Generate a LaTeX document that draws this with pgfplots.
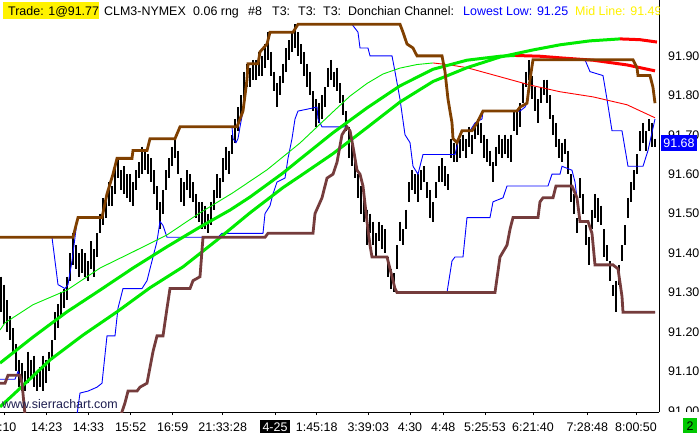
\documentclass[border=0pt]{standalone}
\usepackage{pgfplots}
\usepackage{pgfplotstable}
\pgfplotsset{compat=1.18}
\usepackage{fontspec}
\setmainfont{Liberation Sans}
\definecolor{brownup}{RGB}{128,64,0}
\definecolor{maroonlow}{RGB}{117,60,60}
\definecolor{malime}{RGB}{0,235,0}
\definecolor{mared}{RGB}{255,0,0}
\definecolor{mablue}{RGB}{0,0,255}
\definecolor{sgreen}{RGB}{0,200,0}
\definecolor{wmark}{RGB}{30,30,80}

\pgfplotstableread{
x h l
1 91.34 91.25
4 91.32 91.22
7 91.28 91.20
10 91.24 91.18
13 91.21 91.15
16 91.17 91.10
19 91.13 91.06
22 91.12 91.05
25 91.10 91.05
28 91.15 91.07
31 91.13 91.08
34 91.14 91.06
37 91.10 91.05
40 91.11 91.06
43 91.14 91.05
46 91.13 91.07
49 91.15 91.10
52 91.18 91.13
55 91.25 91.18
58 91.27 91.21
61 91.30 91.24
64 91.31 91.26
67 91.34 91.28
70 91.40 91.33
73 91.45 91.37
76 91.42 91.36
79 91.40 91.34
82 91.41 91.35
85 91.40 91.34
88 91.38 91.33
91 91.43 91.36
94 91.41 91.34
97 91.45 91.39
100 91.50 91.45
103 91.54 91.47
106 91.53 91.49
109 91.58 91.52
112 91.57 91.52
115 91.62 91.55
118 91.64 91.59
121 91.61 91.56
124 91.62 91.55
127 91.60 91.54
130 91.60 91.53
133 91.58 91.52
136 91.61 91.56
139 91.63 91.59
142 91.67 91.60
145 91.66 91.61
148 91.65 91.60
151 91.64 91.58
154 91.61 91.55
157 91.57 91.51
160 91.53 91.46
163 91.56 91.50
166 91.61 91.56
169 91.64 91.59
172 91.67 91.62
175 91.69 91.64
178 91.66 91.60
181 91.59 91.53
184 91.58 91.52
187 91.61 91.56
190 91.60 91.54
193 91.58 91.53
196 91.55 91.49
199 91.53 91.48
202 91.53 91.46
205 91.52 91.46
208 91.50 91.45
211 91.53 91.47
214 91.56 91.51
217 91.60 91.54
220 91.59 91.54
223 91.64 91.58
226 91.67 91.61
229 91.66 91.60
232 91.70 91.65
235 91.74 91.68
238 91.77 91.71
241 91.80 91.75
244 91.86 91.78
247 91.88 91.82
250 91.87 91.82
253 91.89 91.84
256 91.89 91.84
259 91.91 91.85
262 91.90 91.85
265 91.93 91.87
268 91.96 91.89
271 91.91 91.85
274 91.86 91.81
277 91.83 91.77
280 91.85 91.80
283 91.88 91.83
286 91.92 91.86
289 91.94 91.89
292 91.96 91.91
295 91.98 91.92
298 91.96 91.90
301 91.93 91.88
304 91.91 91.85
307 91.88 91.82
310 91.86 91.80
313 91.81 91.76
316 91.79 91.72
319 91.78 91.73
322 91.80 91.74
325 91.82 91.77
328 91.87 91.82
331 91.89 91.84
334 91.86 91.82
337 91.87 91.81
340 91.83 91.78
343 91.80 91.75
346 91.76 91.71
349 91.72 91.64
352 91.69 91.62
355 91.64 91.59
358 91.60 91.54
361 91.57 91.50
364 91.55 91.48
367 91.51 91.42
370 91.50 91.45
373 91.48 91.42
376 91.45 91.39
379 91.48 91.43
382 91.47 91.41
385 91.46 91.40
388 91.39 91.34
391 91.36 91.31
394 91.35 91.30
397 91.42 91.36
400 91.48 91.43
403 91.46 91.42
406 91.51 91.46
409 91.58 91.53
412 91.61 91.56
415 91.60 91.55
418 91.60 91.53
421 91.61 91.56
424 91.62 91.58
427 91.58 91.54
430 91.56 91.49
433 91.53 91.48
436 91.58 91.54
439 91.62 91.58
442 91.64 91.58
445 91.62 91.57
448 91.60 91.56
451 91.69 91.64
454 91.68 91.63
457 91.68 91.63
460 91.69 91.64
463 91.70 91.66
466 91.69 91.64
469 91.72 91.67
472 91.70 91.65
475 91.72 91.69
478 91.74 91.70
481 91.73 91.68
484 91.70 91.64
487 91.69 91.63
490 91.66 91.62
493 91.63 91.58
496 91.67 91.62
499 91.70 91.65
502 91.69 91.64
505 91.70 91.65
508 91.69 91.64
511 91.70 91.63
514 91.76 91.71
517 91.76 91.70
520 91.78 91.72
523 91.83 91.78
526 91.86 91.82
529 91.89 91.84
532 91.85 91.79
535 91.82 91.76
538 91.79 91.73
541 91.82 91.78
544 91.84 91.80
547 91.84 91.78
550 91.80 91.74
553 91.75 91.70
556 91.73 91.67
559 91.69 91.64
562 91.68 91.63
565 91.69 91.65
568 91.66 91.60
571 91.60 91.53
574 91.55 91.50
577 91.49 91.45
580 91.59 91.54
583 91.55 91.50
586 91.47 91.42
589 91.44 91.37
592 91.51 91.46
595 91.55 91.49
598 91.54 91.48
601 91.52 91.47
604 91.46 91.39
607 91.42 91.38
610 91.38 91.33
613 91.32 91.29
616 91.33 91.25
619 91.37 91.32
622 91.42 91.38
625 91.47 91.42
628 91.54 91.49
631 91.58 91.53
634 91.61 91.56
637 91.65 91.60
640 91.71 91.66
643 91.73 91.68
646 91.71 91.66
649 91.74 91.71
652 91.73 91.67
655 91.69 91.67
}\bars

\begin{document}
\begin{tikzpicture}
\useasboundingbox (0bp,0bp) rectangle (700bp,434bp);
\fill[white] (0bp,0bp) rectangle (700bp,434bp);
\begin{axis}[
  at={(0bp,22bp)}, anchor=south west,
  x=1bp, y=394.4bp,
  xmin=0, xmax=659, ymin=90.997, ymax=92.042,
  separate axis lines,
  axis x line*=bottom, axis y line*=right,
  axis line style={-, black, line width=0.9bp},
  font=\fontsize{12.5}{15}\selectfont,
  xtick={4.3,46.7,88.5,130.7,172.7,222.7,275,316.7,368.3,410,443.3,485,533,587.3,636},
  xticklabels={4:10,14:23,14:33,15:52,16:59,21:33:28,{\setlength{\fboxsep}{2.2bp}\colorbox{black}{\textcolor{white}{4-25}}},1:45:18,3:39:03,4:30,4:48,5:25:53,6:21:40,7:28:48,8:00:50},
  xticklabel style={anchor=base, inner sep=0pt, yshift=-16bp},
  ytick={91.0,91.1,91.2,91.3,91.4,91.5,91.6,91.7,91.8,91.9},
  yticklabels={91.00,91.10,91.20,91.30,91.40,91.50,91.60,91.70,91.80,91.90},
  yticklabel style={anchor=west, inner sep=0pt, xshift=6bp},
  tick align=outside,
  xtick style={draw=black, line width=0.8bp},
  ytick style={draw=none},
  major tick length=3bp,
  clip=true,
]
% price bars (high to low)
\addplot[draw=none, mark=none, error bars/.cd, y dir=minus, y explicit, error mark=none,
  error bar style={draw=black, line width=1.5bp}]
  table[x=x, y=h, y error expr=\thisrow{h}-\thisrow{l}] {\bars};
% blue upper
\addplot[mablue, line width=0.9bp, mark=none] coordinates {
(0,91.44)(52,91.44)(55,91.38)(58,91.32)(65,91.31)(68,91.32)(72,91.38)(75,91.44)(77,91.48)(78,91.49)(102,91.49)(107,91.55)(113,91.60)(117,91.64)(132,91.64)(133,91.66)(147,91.66)(150,91.69)(175,91.69)(180,91.72)(232,91.72)(233,91.69)(236,91.68)(238,91.69)(240,91.72)(243,91.76)(247,91.84)(248,91.88)(258,91.88)(260,91.91)(267,91.93)(270,91.96)(293,91.96)(298,91.98)(352,91.98)(358,91.96)(360,91.92)(368,91.92)(370,91.90)(392,91.90)(395,91.86)(400,91.79)(405,91.70)(410,91.68)(413,91.62)(418,91.60)(423,91.65)(455,91.65)(457,91.67)(460,91.70)(462,91.71)(470,91.71)(475,91.73)(482,91.74)(483,91.76)(520,91.76)(525,91.77)(527,91.78)(530,91.84)(533,91.89)(585,91.89)(590,91.86)(603,91.85)(607,91.79)(612,91.71)(622,91.71)(628,91.62)(643,91.62)(648,91.66)(655,91.74)};
% blue lower
\addplot[mablue, line width=0.9bp, mark=none] coordinates {
(0,91.08)(15,91.08)(18,91.10)(22,91.08)(25,90.99)(77,90.99)(80,91.045)(88,91.05)(97,91.06)(102,91.07)(107,91.19)(115,91.19)(118,91.26)(123,91.31)(142,91.31)(147,91.33)(152,91.38)(157,91.43)(160,91.48)(163,91.47)(167,91.44)(218,91.44)(222,91.45)(263,91.45)(265,91.50)(270,91.52)(273,91.55)(277,91.58)(285,91.59)(288,91.64)(292,91.69)(295,91.74)(298,91.76)(317,91.77)(318,91.74)(322,91.72)(347,91.72)(350,91.71)(353,91.67)(357,91.61)(360,91.60)(363,91.57)(367,91.48)(370,91.42)(372,91.39)(387,91.39)(390,91.36)(395,91.31)(397,91.30)(447,91.30)(452,91.38)(455,91.39)(463,91.39)(467,91.49)(490,91.49)(493,91.53)(503,91.54)(507,91.57)(548,91.57)(552,91.60)(560,91.60)(562,91.62)(572,91.61)(575,91.58)(577,91.54)(580,91.48)(588,91.48)(592,91.45)(595,91.37)(613,91.37)(618,91.36)(622,91.29)(623,91.25)(655,91.25)};
% thin moving average
\addplot[malime, line width=0.9bp, mark=none] coordinates {
(0,91.205)(5,91.223)(33,91.269)(67,91.306)(100,91.362)(133,91.403)(167,91.446)(200,91.502)(233,91.553)(267,91.611)(300,91.679)(333,91.758)(350,91.798)(367,91.830)(383,91.854)(400,91.869)(417,91.878)(433,91.882)};
\addplot[mared, line width=0.9bp, mark=none] coordinates {
(433,91.882)(450,91.877)(467,91.870)(500,91.847)(530,91.826)(560,91.809)(593,91.796)(627,91.776)(655,91.743)};
% thick moving average (faster)
\addplot[malime, line width=3bp, mark=none] coordinates {
(0,91.121)(33,91.187)(67,91.251)(100,91.306)(133,91.362)(167,91.416)(200,91.466)(230,91.509)(250,91.542)(283,91.603)(300,91.638)(333,91.705)(367,91.768)(400,91.824)(433,91.866)(467,91.889)(500,91.899)(515,91.901)};
\addplot[mared, line width=3bp, mark=none] coordinates {
(515,91.901)(540,91.899)(560,91.895)(593,91.889)(627,91.877)(655,91.862)};
% thick moving average (slower)
\addplot[malime, line width=3bp, mark=none] coordinates {
(0,91.010)(15,91.045)(50,91.129)(83,91.192)(117,91.251)(150,91.312)(183,91.365)(217,91.433)(250,91.502)(283,91.566)(300,91.595)(333,91.652)(367,91.718)(400,91.783)(433,91.835)(467,91.870)(500,91.897)(533,91.915)(560,91.928)(590,91.938)(620,91.943)};
\addplot[mared, line width=3bp, mark=none] coordinates {
(620,91.943)(640,91.941)(657,91.935)};
% Donchian lower
\addplot[maroonlow, line width=2.8bp, mark=none] coordinates {
(0,91.07)(5,91.07)(8,91.09)(20,91.09)(22,91.07)(25,90.99)(121,90.99)(125,91.02)(128,91.05)(137,91.05)(140,91.06)(147,91.07)(153,91.15)(157,91.19)(163,91.19)(167,91.26)(170,91.31)(190,91.31)(193,91.33)(200,91.34)(203,91.44)(265,91.44)(268,91.45)(313,91.45)(315,91.50)(322,91.54)(327,91.59)(333,91.60)(337,91.63)(342,91.70)(347,91.72)(350,91.71)(353,91.67)(357,91.61)(360,91.60)(363,91.57)(367,91.48)(370,91.42)(372,91.39)(387,91.39)(390,91.36)(395,91.31)(397,91.30)(495,91.30)(500,91.39)(507,91.42)(510,91.46)(513,91.49)(538,91.49)(540,91.53)(543,91.54)(553,91.54)(556,91.57)(572,91.57)(577,91.54)(580,91.48)(588,91.48)(592,91.45)(595,91.37)(613,91.37)(618,91.36)(622,91.29)(623,91.25)(655,91.25)};
% Donchian upper
\addplot[brownup, line width=2.8bp, mark=none] coordinates {
(0,91.44)(73,91.44)(77,91.48)(78,91.49)(102,91.49)(107,91.55)(113,91.60)(117,91.64)(132,91.64)(133,91.66)(147,91.66)(150,91.69)(175,91.69)(180,91.72)(237,91.72)(243,91.76)(247,91.84)(248,91.88)(258,91.88)(260,91.91)(267,91.93)(270,91.96)(293,91.96)(298,91.98)(400,91.98)(403,91.96)(407,91.93)(413,91.92)(417,91.90)(442,91.90)(445,91.86)(448,91.79)(452,91.73)(453,91.69)(457,91.68)(462,91.71)(472,91.71)(477,91.73)(483,91.76)(517,91.76)(520,91.77)(527,91.78)(530,91.84)(533,91.89)(633,91.89)(637,91.87)(638,91.85)(650,91.85)(653,91.82)(655,91.78)};
\end{axis}
\begin{scope}[x=1bp,y=1bp]
% cover below plot at right (clipped 91.00 label)
\fill[white] (660,0) rectangle (700,21.5);
% last price box
\fill[mablue] (661,283) rectangle (697,299);
\node[anchor=base, inner sep=0pt, text=white, font=\fontsize{12.5}{15}\selectfont] at (679,286.5) {91.68};
% bar counter box
\fill[sgreen] (683,1) rectangle (697,16);
\node[anchor=base, inner sep=0pt, font=\fontsize{12.5}{15}\selectfont] at (690,4) {2};
% watermark
\node[anchor=base west, inner sep=0pt, text=wmark, font=\fontsize{12.5}{15}\selectfont] at (2,26) {www.sierrachart.com};
% header
\fill[yellow] (3,415) rectangle (99,432);
\begin{scope}
\clip (0,0) rectangle (659,434);
\begin{scope}[every node/.style={anchor=base west, inner sep=0pt, font=\fontsize{12.5}{15}\selectfont}]
\node at (8,418) {Trade: 1@91.77};
\node at (104,418) {CLM3-NYMEX};
\node at (193,418) {0.06 rng};
\node at (248,418) {\#8};
\node at (272,418) {T3:};
\node at (298,418) {T3:};
\node at (323,418) {T3:};
\node at (348,418) {Donchian Channel:};
\node[text=mablue] at (463,418) {Lowest Low: 91.25};
\node[text=yellow] at (575,418) {Mid Line: 91.49};
\end{scope}
\end{scope}
\end{scope}
\end{tikzpicture}
\end{document}
